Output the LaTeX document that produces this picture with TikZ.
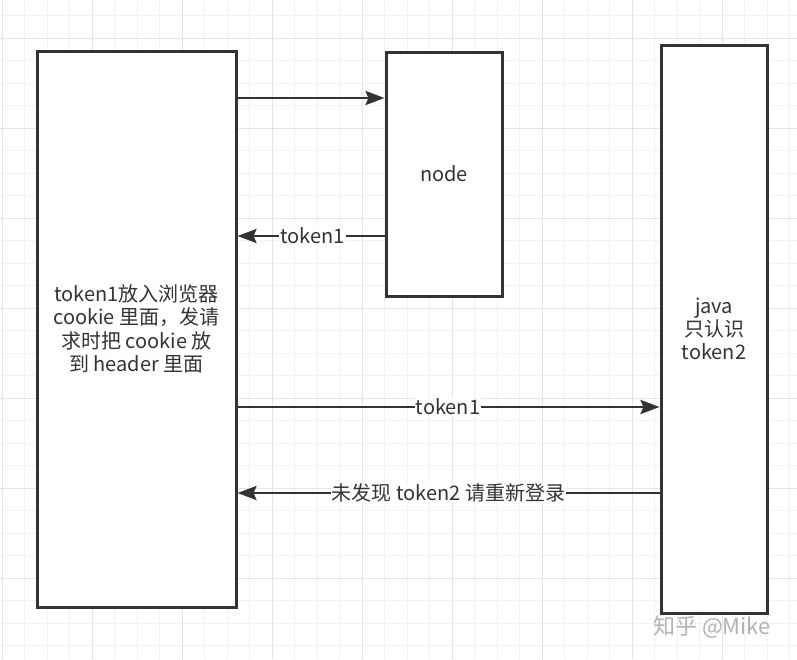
\documentclass[tikz,border=0pt]{standalone}
\usepackage{fontspec}
\setmainfont{Noto Sans CJK SC}
\usetikzlibrary{arrows.meta}
\definecolor{ink}{HTML}{333333}
\definecolor{gminor}{HTML}{F2F2F2}
\definecolor{gmajor}{HTML}{E4E4E4}
\begin{document}
\begin{tikzpicture}[x=1pt,y=-1pt,
  box/.style={draw=ink,line width=3pt,fill=white,inner sep=0pt,align=center,
    font=\fontsize{20}{23.3}\selectfont,text=ink},
  arr/.style={draw=ink,line width=2.8pt,-{Stealth[length=19pt,width=14pt,inset=3pt]}},
  lbl/.style={fill=white,inner sep=1pt,font=\fontsize{20}{23}\selectfont,text=ink}]
\useasboundingbox (0,0) rectangle (797,659);
\fill[white] (0,0) rectangle (797,659);
% grid
\foreach \k in {0,...,35} {
  \draw[gminor,line width=1pt] ({2+22.5*\k},0) -- ({2+22.5*\k},659);
}
\foreach \k in {0,...,29} {
  \draw[gminor,line width=1pt] (0,{15.5+22.5*\k}) -- (797,{15.5+22.5*\k});
}
\foreach \k in {0,...,8} {
  \draw[gmajor,line width=1pt] ({2+90*\k},0) -- ({2+90*\k},659);
}
\foreach \k in {0,...,7} {
  \draw[gmajor,line width=1pt] (0,{38+90*\k}) -- (797,{38+90*\k});
}
% boxes
\node[box,minimum width=199pt,minimum height=556pt] (L) at (136.5,329)
  {token1放入浏览器\\cookie 里面，发请\\求时把 cookie 放\\到 header 里面};
\node[box,minimum width=116pt,minimum height=244pt] (N) at (444,174) {node};
\node[box,minimum width=106pt,minimum height=568pt] (J) at (714,329) {java\\只认识\\token2};
% rows
\coordinate (r1) at (0,98);
\coordinate (r2) at (0,236);
\coordinate (r3) at (0,407);
\coordinate (r4) at (0,493);
\draw[arr] (L.east |- r1) -- (N.west |- r1);
\draw[arr] (N.west |- r2) -- node[lbl,pos=0.49] {token1} (L.east |- r2);
\draw[arr] (L.east |- r3) -- node[lbl,pos=0.499] {token1} (J.west |- r3);
\draw[arr] (J.west |- r4) -- node[lbl,pos=0.5] {未发现 token2 请重新登录} (L.east |- r4);
% watermark
\node[text=black!30,font=\fontsize{22}{24}\selectfont] (wm) at (712,627) {知乎 @Mike};
\end{tikzpicture}
\end{document}
